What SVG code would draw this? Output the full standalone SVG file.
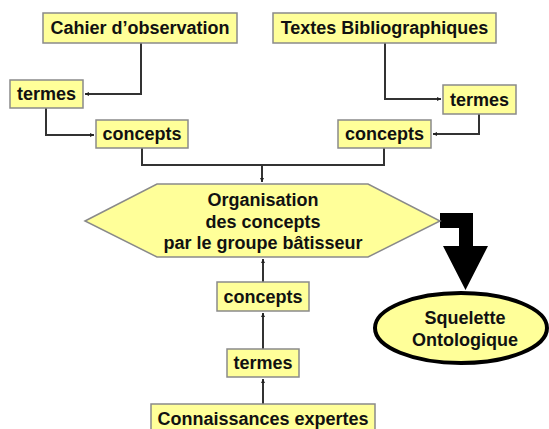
<svg xmlns="http://www.w3.org/2000/svg" width="549" height="429" viewBox="0 0 549 429">
<defs>
<marker id="ah" viewBox="0 0 8 8" refX="8" refY="4" markerWidth="4" markerHeight="4" orient="auto" markerUnits="userSpaceOnUse">
<path d="M0,0 L8,4 L0,8 Z" fill="#222"/>
</marker>
<style>
.box{fill:#FFFF99;stroke:#8a8a8a;stroke-width:1.5}
.t{font-family:"Liberation Sans",Arial,sans-serif;font-weight:bold;font-size:18px;fill:#111;text-anchor:middle;dominant-baseline:central}
.c{fill:none;stroke:#333;stroke-width:2}
</style>
</defs>
<rect width="549" height="429" fill="#fff"/>
<g id="connectors">
<polyline class="c" points="141,43 141,94 85,94" marker-end="url(#ah)"/>
<polyline class="c" points="46,108 46,135 94,135" marker-end="url(#ah)"/>
<polyline class="c" points="385,43 385,99 441,99" marker-end="url(#ah)"/>
<polyline class="c" points="479,114 479,134 433,134" marker-end="url(#ah)"/>
<polyline class="c" points="142,148 142,165 384,165 384,148"/>
<line class="c" x1="262" y1="165" x2="262" y2="182" marker-end="url(#ah)"/>
<line class="c" x1="263" y1="282" x2="263" y2="259" marker-end="url(#ah)"/>
<line class="c" x1="263" y1="349" x2="263" y2="313" marker-end="url(#ah)"/>
<line class="c" x1="263" y1="404" x2="263" y2="379" marker-end="url(#ah)"/>
<polygon points="440,213 473,213 473,246 488,246 465.5,290 443,246 459,246 459,228 440,228" fill="#000"/>
</g>
<g id="cahier">
<rect class="box" x="43" y="13" width="194" height="30"/>
<text class="t" x="140" y="28">Cahier d’observation</text>
</g>
<g id="textes">
<rect class="box" x="273" y="13" width="223" height="30"/>
<text class="t" x="384.5" y="28">Textes Bibliographiques</text>
</g>
<g id="termes-left">
<rect class="box" x="10" y="80" width="73" height="28"/>
<text class="t" x="46.5" y="94">termes</text>
</g>
<g id="concepts-left">
<rect class="box" x="96" y="120" width="92" height="28"/>
<text class="t" x="142" y="134">concepts</text>
</g>
<g id="termes-right">
<rect class="box" x="443" y="85" width="73" height="29"/>
<text class="t" x="479.5" y="99.5">termes</text>
</g>
<g id="concepts-right">
<rect class="box" x="338" y="120" width="93" height="28"/>
<text class="t" x="384.5" y="134">concepts</text>
</g>
<g id="organisation">
<polygon class="box" points="85,221 157,184 368,184 440,221 368,257 157,257"/>
<text class="t" x="263" y="200">Organisation</text>
<text class="t" x="263" y="222">des concepts</text>
<text class="t" x="263" y="243">par le groupe bâtisseur</text>
</g>
<g id="concepts-bottom">
<rect class="box" x="217" y="282" width="92" height="29"/>
<text class="t" x="263" y="296.5">concepts</text>
</g>
<g id="termes-bottom">
<rect class="box" x="227" y="349" width="72" height="28"/>
<text class="t" x="263" y="363">termes</text>
</g>
<g id="connaissances">
<rect class="box" x="151" y="404" width="224" height="30"/>
<text class="t" x="263" y="419">Connaissances expertes</text>
</g>
<g id="squelette">
<ellipse cx="461" cy="328" rx="86" ry="35" fill="#FFFF99" stroke="#000" stroke-width="4"/>
<text class="t" x="465" y="318">Squelette</text>
<text class="t" x="465" y="340">Ontologique</text>
</g>
</svg>
